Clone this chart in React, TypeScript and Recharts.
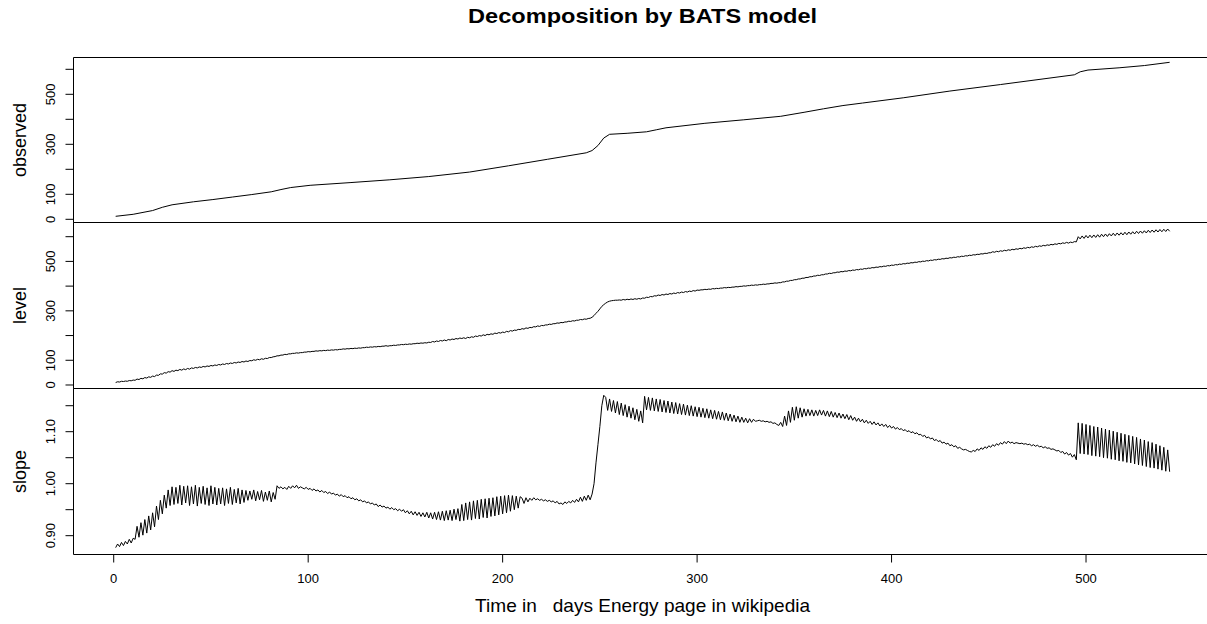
import React from 'react';
import { LineChart, Line, XAxis, YAxis, ReferenceArea } from 'recharts';

// ---- data ----
const observedDays = [1, 10, 20, 25, 30, 41, 51, 61, 71, 81, 86, 91, 101, 122, 142, 162, 183, 203, 223, 243, 246, 249, 252, 255, 264, 274, 279, 284, 304, 324, 343, 355, 365, 375, 385, 406, 430, 456, 494, 497, 501, 517, 530, 543];
const observedValues = [12, 20, 35, 48, 58, 70, 79, 89, 99, 110, 119, 127, 136, 147, 158, 171, 189, 214, 240, 266, 275, 295, 325, 340, 344, 350, 358, 366, 384, 398, 412, 428, 442, 455, 465, 486, 513, 539, 578, 590, 597, 606, 615, 628];

// level, one value per day (day 1 .. 543)
const levelValues = [
  10,13,12,15,14,16,15,18,17,20,
  19,24,22,27,25,30,28,33,31,36,
  34,40,39,45,44,50,48,54,52,58,
  55,60,58,63,60,65,62,67,64,69,
  67,71,69,73,71,75,73,77,75,79,
  77,81,79,83,81,85,83,87,85,89,
  87,91,89,93,91,95,93,97,95,99,
  98,102,100,104,102,106,104,108,107,111,
  111,114,115,118,118,121,121,124,123,126,
  126,128,128,130,129,131,131,133,133,135,
  134,136,136,138,137,139,138,140,139,141,
  140,142,141,143,142,144,144,146,145,147,
  146,148,147,149,148,150,149,151,151,153,
  152,154,153,155,154,156,155,157,157,159,
  157,159,159,161,160,162,162,164,163,165,
  164,166,165,167,167,169,168,170,169,171,
  170,173,172,176,174,178,176,180,178,182,
  179,184,182,186,184,188,186,190,188,191,
  188,193,191,195,193,198,196,200,198,203,
  200,205,203,207,205,210,208,212,210,214,
  212,217,215,220,218,222,221,225,224,228,
  226,231,229,233,232,236,235,239,237,241,
  240,243,243,246,245,248,248,251,250,253,
  252,255,255,258,257,260,259,262,262,265,
  264,267,266,269,270,274,281,290,298,308,
  318,325,331,336,339,341,342,343,343,344,
  343,346,344,347,345,348,346,349,347,350,
  348,352,351,355,354,358,357,361,360,364,
  362,366,364,368,366,370,368,372,370,374,
  372,376,374,378,376,380,378,382,380,384,
  383,385,385,387,386,388,387,390,389,391,
  390,392,392,394,393,395,394,396,396,398,
  397,399,399,401,400,402,402,404,403,405,
  404,406,406,408,407,409,409,411,411,413,
  412,414,414,417,417,420,420,423,423,426,
  426,429,429,432,432,435,435,438,438,441,
  441,444,443,446,446,449,449,452,451,454,
  454,457,456,459,458,461,460,463,462,465,
  464,467,466,469,468,471,470,473,472,475,
  474,477,476,479,478,481,480,483,482,485,
  484,487,486,489,488,491,490,493,492,495,
  494,497,496,499,498,501,500,503,502,505,
  504,507,506,509,508,511,510,513,512,515,
  514,517,516,519,518,521,520,523,522,525,
  524,527,526,529,528,531,530,533,532,535,
  535,539,537,541,539,543,541,545,543,547,
  545,549,547,551,549,553,551,555,553,557,
  555,559,557,561,559,563,561,565,563,567,
  565,569,567,571,569,573,571,575,573,577,
  574,578,576,580,579,600,591,603,593,605,
  595,606,596,607,597,608,598,610,600,611,
  601,612,603,614,604,615,606,616,607,618,
  608,619,610,620,611,622,613,623,614,624,
  615,626,617,627,618,628,619,629,620,630,
  621,631,622,
];

// slope, one value per day (day 1 .. 543)
const slopeValues = [
  0.877,0.884,0.879,0.887,0.881,0.889,0.884,0.893,0.886,0.895,
  0.893,0.918,0.897,0.925,0.901,0.931,0.905,0.938,0.911,0.944,0.917,
  0.957,0.931,0.968,0.942,0.978,
  0.953,0.988,0.958,0.994,0.960,0.993,0.962,0.997,0.959,0.995,0.963,0.996,0.958,0.994,0.961,0.997,0.957,0.993,0.962,0.995,0.960,0.992,0.958,0.996,0.961,0.993,0.959,
  0.991,0.961,0.992,0.958,0.990,0.962,0.993,0.960,0.989,0.963,0.991,0.961,0.988,0.964,0.987,
  0.968,0.986,0.970,0.988,0.967,0.985,0.969,0.987,0.966,0.984,0.968,0.986,0.965,0.983,0.970,
  0.996,0.991,0.994,0.990,0.993,0.989,0.995,0.991,0.996,0.992,0.997,0.991,0.994,0.992,
  0.990,0.993,0.989,0.991,0.987,0.990,0.986,0.988,0.984,0.987,0.983,0.985,0.981,0.984,0.980,0.982,0.978,0.980,0.976,0.979,0.975,0.977,0.973,0.975,0.971,0.973,0.969,0.971,0.967,0.969,0.965,0.967,0.963,0.965,0.961,0.963,0.959,0.961,0.956,0.959,0.955,0.957,0.953,0.955,0.951,0.954,0.950,0.952,0.948,0.951,0.947,
  0.950,0.944,0.948,0.942,0.947,0.940,0.946,0.939,0.945,0.937,0.944,0.936,0.945,0.934,0.944,0.932,0.945,0.931,0.946,0.930,0.947,0.929,0.948,0.930,0.949,0.929,0.951,0.931,0.952,
  0.928,0.960,0.929,0.963,0.931,0.965,0.930,0.967,0.933,0.968,0.932,0.970,0.935,0.971,0.934,0.972,0.937,0.973,0.938,0.975,0.940,0.976,0.942,0.977,0.944,0.978,0.947,0.977,0.950,0.976,0.953,0.975,
  0.972,0.962,0.973,0.965,0.972,0.968,0.973,0.969,0.971,0.968,0.970,0.967,0.969,0.966,0.968,0.965,0.967,0.963,0.966,0.961,0.963,0.960,0.965,0.962,0.966,0.963,0.968,0.964,0.970,0.965,0.974,0.966,0.976,0.968,0.978,0.969,
  0.980,1.000,1.040,1.075,1.110,1.150,1.170,
  1.166,1.141,1.163,1.139,1.160,1.136,1.158,1.133,1.155,1.131,1.152,1.128,1.149,1.126,1.146,1.123,1.143,1.120,1.140,1.117,
  1.168,
  1.142,1.166,1.141,1.165,1.140,1.163,1.139,1.162,1.138,1.160,1.137,1.159,1.136,1.157,1.135,1.156,1.134,1.154,1.133,1.153,1.132,1.151,1.131,1.150,1.130,1.148,1.129,1.147,1.128,1.145,1.127,1.144,1.126,1.142,1.125,1.141,1.124,1.139,1.123,1.138,1.122,1.136,1.121,1.134,1.120,1.132,1.119,1.130,1.118,1.128,1.118,1.126,1.117,1.125,1.118,1.124,1.120,
  1.121,1.122,1.120,1.121,1.119,1.120,1.118,1.119,1.116,1.117,1.114,1.112,
  1.118,1.110,1.130,1.112,1.140,1.118,1.147,1.122,1.148,1.126,1.146,1.128,
  1.144,1.130,1.143,1.131,1.142,1.130,1.141,1.131,1.142,1.132,1.141,1.130,1.140,1.129,1.139,1.128,1.137,1.127,1.136,1.126,1.134,1.125,1.133,1.123,1.131,
  1.122,1.128,1.120,1.126,1.119,1.124,1.117,1.122,1.116,1.120,1.114,1.119,1.113,1.117,1.111,1.115,1.110,1.114,1.108,1.112,1.107,1.110,1.105,1.108,1.104,1.106,
  1.102,1.104,1.100,1.102,1.098,1.100,1.096,1.098,1.094,1.095,1.091,1.093,1.088,1.090,1.086,1.088,1.083,1.085,1.081,1.083,1.078,1.080,1.076,1.078,1.073,1.075,1.071,1.073,1.068,1.070,1.067,
  1.065,1.066,1.064,1.062,1.061,1.064,1.062,1.067,1.064,1.069,1.066,1.071,1.068,1.073,1.070,1.075,1.072,1.077,1.074,1.079,1.076,1.081,1.077,1.082,1.078,1.080,1.077,1.079,1.078,1.077,1.078,1.076,1.077,1.075,1.076,1.073,1.075,1.072,1.074,1.071,1.072,1.069,1.071,1.068,1.069,1.066,1.067,1.065,1.063,1.064,1.060,1.062,1.057,1.060,1.055,1.058,1.051,1.056,1.046,
  1.117,1.058,1.116,1.057,1.114,1.056,1.112,1.054,1.110,1.053,1.109,1.052,1.107,1.050,1.105,1.049,1.103,1.047,1.101,1.046,1.099,1.044,1.097,1.043,1.095,1.041,1.093,1.040,1.091,1.038,1.089,1.036,1.086,1.035,1.084,1.033,1.081,1.031,1.079,1.030,1.076,1.028,1.073,1.026,1.070,1.024,1.065,1.023,
];

const dayTicks = [0, 100, 200, 300, 400, 500];
const countTicks = [0, 100, 200, 300, 400, 500, 600];
const countLabels = [0, 100, 300, 500];
const slopeTicks = [0.9, 0.95, 1.0, 1.05, 1.1, 1.15];
const slopeLabels = [0.9, 1.0, 1.1];

const observedData = observedDays.map((d, i) => ({ day: d, v: observedValues[i] }));
const levelData = levelValues.map((v, i) => ({ day: i + 1, v }));
const slopeData = slopeValues.map((v, i) => ({ day: i + 1, v }));

// ---- layout ----
const X_DOMAIN: [number, number] = [-20.68, 564.68];
const CHART_W = 1215;
const CHART_H = 624;
const AXIS_W = 73.5;
const RIGHT = 3.2;
const FONT = '"Liberation Sans", Arial, Helvetica, sans-serif';

const makeYTick = (labels: number[], fmt: (v: number) => string) => (props: any) => {
  const { y, payload } = props;
  const v = payload.value;
  const show = labels.some((l) => Math.abs(l - v) < 1e-9);
  if (!show) return <g />;
  return (
    <text x={55.5} y={y} transform={`rotate(-90, 55.5, ${y})`} textAnchor="middle" fontSize={13} fill="#000" fontFamily={FONT}>
      {fmt(v)}
    </text>
  );
};

const makeYLabel = (text: string) => (props: any) => {
  const vb = props.viewBox || {};
  const cy = (vb.y ?? 0) + (vb.height ?? 0) / 2;
  return (
    <text x={25.5} y={cy} transform={`rotate(-90, 25.5, ${cy})`} textAnchor="middle" fontSize={18} fill="#000" fontFamily={FONT}>
      {text}
    </text>
  );
};

const xTitle = () => (
  <text x={642.6} y={612} textAnchor="middle" fontSize={19} fill="#000" fontFamily={FONT} style={{ whiteSpace: 'pre' }} textLength={335} lengthAdjust="spacingAndGlyphs">
    {'Time in   days Energy page in wikipedia'}
  </text>
);

const countFmt = (v: number) => String(v);
const slopeFmt = (v: number) => v.toFixed(2);

const layer: React.CSSProperties = { position: 'absolute', left: 0, top: 0 };

export default function App() {
  return (
    <div style={{ position: 'absolute', left: 0, top: 0, width: 1207, height: 624, overflow: 'hidden', background: '#fff', fontFamily: FONT }}>
      <svg style={layer} width={1207} height={40}>
        <text x={642.6} y={23.3} textAnchor="middle" fontSize={21} fontWeight="bold" fill="#000" fontFamily={FONT} textLength={349} lengthAdjust="spacingAndGlyphs">
          Decomposition by BATS model
        </text>
      </svg>

      <div style={layer}>
        <LineChart width={CHART_W} height={CHART_H} data={observedData} margin={{ top: 57.5, right: RIGHT, bottom: 401.5, left: 0 }}>
          <XAxis dataKey="day" type="number" domain={X_DOMAIN} allowDataOverflow hide />
          <YAxis
            type="number"
            width={AXIS_W}
            domain={[-12.8, 647.2]}
            allowDataOverflow
            ticks={countTicks}
            interval={0}
            axisLine={false}
            tickSize={8}
            tickLine={{ stroke: '#000' }}
            tick={makeYTick(countLabels, countFmt)}
            label={makeYLabel('observed')}
          />
          <ReferenceArea x1={X_DOMAIN[0]} x2={X_DOMAIN[1]} y1={-12.8} y2={647.2} fill="none" stroke="#000" strokeWidth={1} />
          <Line dataKey="v" type="linear" stroke="#000" strokeWidth={1} dot={false} activeDot={false} isAnimationActive={false} />
        </LineChart>
      </div>

      <div style={layer}>
        <LineChart width={CHART_W} height={CHART_H} data={levelData} margin={{ top: 222.5, right: RIGHT, bottom: 235.5, left: 0 }}>
          <XAxis dataKey="day" type="number" domain={X_DOMAIN} allowDataOverflow hide />
          <YAxis
            type="number"
            width={AXIS_W}
            domain={[-14.2, 657.4]}
            allowDataOverflow
            ticks={countTicks}
            interval={0}
            axisLine={false}
            tickSize={8}
            tickLine={{ stroke: '#000' }}
            tick={makeYTick(countLabels, countFmt)}
            label={makeYLabel('level')}
          />
          <ReferenceArea x1={X_DOMAIN[0]} x2={X_DOMAIN[1]} y1={-14.2} y2={657.4} fill="none" stroke="#000" strokeWidth={1} />
          <Line dataKey="v" type="linear" stroke="#000" strokeWidth={1} dot={false} activeDot={false} isAnimationActive={false} />
        </LineChart>
      </div>

      <div style={layer}>
        <LineChart width={CHART_W} height={CHART_H} data={slopeData} margin={{ top: 388.5, right: RIGHT, bottom: 0, left: 0 }}>
          <XAxis
            dataKey="day"
            type="number"
            domain={X_DOMAIN}
            allowDataOverflow
            ticks={dayTicks}
            interval={0}
            height={69.5}
            axisLine={false}
            tickSize={8}
            tickMargin={11}
            tickLine={{ stroke: '#000' }}
            tick={{ fill: '#000', fontSize: 13, fontFamily: FONT }}
            label={xTitle}
          />
          <YAxis
            type="number"
            width={AXIS_W}
            domain={[0.8638, 1.1831]}
            allowDataOverflow
            ticks={slopeTicks}
            interval={0}
            axisLine={false}
            tickSize={8}
            tickLine={{ stroke: '#000' }}
            tick={makeYTick(slopeLabels, slopeFmt)}
            label={makeYLabel('slope')}
          />
          <ReferenceArea x1={X_DOMAIN[0]} x2={X_DOMAIN[1]} y1={0.8638} y2={1.1831} fill="none" stroke="#000" strokeWidth={1} />
          <Line dataKey="v" type="linear" stroke="#000" strokeWidth={1} dot={false} activeDot={false} isAnimationActive={false} />
        </LineChart>
      </div>
    </div>
  );
}
